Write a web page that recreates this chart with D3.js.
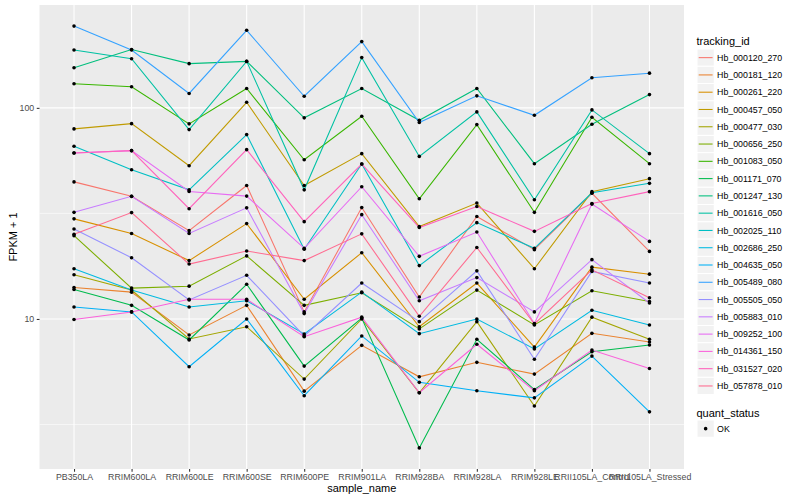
<!DOCTYPE html>
<html>
<head>
<meta charset="utf-8">
<script src="https://cdn.jsdelivr.net/npm/d3@7"></script>
<style>
  body { margin: 0; background: #fff; }
  text { font-family: "Liberation Sans", Arial, sans-serif; }
</style>
</head>
<body>
<div id="chart"></div>
<script>
var svgWidth = 800;
var svgHeight = 500;

// samples on the x axis
var samples = ["PB350LA", "RRIM600LA", "RRIM600LE", "RRIM600SE", "RRIM600PE", "RRIM901LA",
  "RRIM928BA", "RRIM928LA", "RRIM928LE", "RRII105LA_Control", "RRII105LA_Stressed"];

var trackingIds = ["Hb_000120_270", "Hb_000181_120", "Hb_000261_220", "Hb_000457_050",
  "Hb_000477_030", "Hb_000656_250", "Hb_001083_050", "Hb_001171_070", "Hb_001247_130",
  "Hb_001616_050", "Hb_002025_110", "Hb_002686_250", "Hb_004635_050", "Hb_005489_080",
  "Hb_005505_050", "Hb_005883_010", "Hb_009252_100", "Hb_014361_150", "Hb_031527_020",
  "Hb_057878_010"];

// FPKM + 1, one row per tracking id, one column per sample
var fpkm = [
  [44.6, 38.1, 26.2, 42.9, 10.8, 33.7, 12.7, 30.6, 21.3, 39.4, 20.9],
  [14.1, 13.4, 8.40, 11.6, 4.55, 7.50, 5.32, 6.23, 5.48, 8.55, 7.78],
  [29.8, 25.4, 18.9, 28.3, 12.4, 20.6, 9.19, 14.8, 7.36, 17.6, 16.3],
  [79.5, 84.2, 53.2, 106.3, 42.9, 60.7, 27.4, 35.4, 17.3, 40.1, 46.2],
  [16.2, 13.7, 8.04, 9.19, 5.19, 10.0, 4.47, 9.71, 3.87, 10.2, 8.01],
  [24.8, 14.0, 14.3, 19.9, 11.6, 13.3, 8.97, 13.7, 9.37, 13.6, 12.1],
  [130, 126, 84.0, 123.5, 56.8, 91.2, 37.1, 83.3, 32.0, 90.2, 54.4],
  [13.8, 11.6, 7.95, 14.6, 5.98, 10.1, 2.45, 8.01, 4.63, 6.99, 7.53],
  [155, 189, 162, 166, 89.7, 123.5, 87.3, 123.5, 54.4, 83.6, 115.6],
  [188, 171, 78.9, 166, 40.9, 173, 58.9, 95.7, 36.7, 97.8, 60.7],
  [65.8, 50.9, 40.9, 74.7, 21.4, 54.2, 17.9, 28.6, 21.6, 39.6, 43.9],
  [17.3, 13.7, 11.4, 12.2, 8.49, 13.4, 8.52, 10.0, 7.21, 11.0, 9.37],
  [11.4, 10.8, 5.94, 10.0, 4.33, 8.31, 5.01, 4.57, 4.23, 6.67, 3.63],
  [244, 188, 117, 233, 113.5, 206, 85.2, 114, 92.2, 139, 146],
  [26.7, 19.5, 12.3, 16.1, 8.31, 14.8, 9.71, 16.9, 6.44, 16.8, 14.8],
  [32.0, 38.1, 25.4, 33.6, 10.6, 31.2, 12.2, 15.7, 10.8, 19.1, 11.9],
  [61.1, 62.7, 40.2, 38.2, 21.6, 42.3, 19.8, 25.8, 9.52, 35.0, 23.3],
  [9.94, 10.8, 12.4, 12.4, 8.24, 10.2, 4.47, 7.59, 4.57, 7.13, 5.83],
  [61.1, 62.7, 33.3, 63.4, 28.9, 54.2, 27.1, 34.1, 26.0, 35.2, 40.1],
  [25.2, 31.9, 18.2, 21.0, 18.9, 25.3, 10.3, 21.8, 9.47, 17.1, 12.6]
];

var yTicks = [10, 100];
var yMinor = [Math.sqrt(10), Math.sqrt(1000)];

// ggplot2 default hue palette for 20 levels
var colors = ["#F8766D", "#EA8331", "#D89000", "#C09B00", "#A3A500", "#7CAE00", "#39B600",
  "#00BB4E", "#00BF7D", "#00C1A3", "#00BFC4", "#00BAE0", "#00B0F6", "#35A2FF", "#9590FF",
  "#C77CFF", "#E76BF3", "#FA62DB", "#FF62BC", "#FF6C91"];

var panel = { left: 39.5, right: 684, top: 5, bottom: 469 };

var svg = d3.select("#chart")
  .append("svg")
  .attr("width", svgWidth)
  .attr("height", svgHeight);

// long format rows
var series = trackingIds.map(function(id, i) {
  return {
    id: id,
    color: colors[i],
    values: samples.map(function(s, j) { return { sample: s, value: fpkm[i][j] }; })
  };
});
var allValues = d3.merge(fpkm);

// scales (log y, expanded by 5% like ggplot)
var xScale = d3.scalePoint()
  .domain(samples)
  .range([panel.left, panel.right])
  .padding(0.6);

var logExt = d3.extent(allValues, d => Math.log10(d));
var pad = (logExt[1] - logExt[0]) * 0.05;
var yScale = d3.scaleLog()
  .domain([Math.pow(10, logExt[0] - pad), Math.pow(10, logExt[1] + pad)])
  .range([panel.bottom, panel.top]);

// panel background + grid
svg.append("rect")
  .attr("x", panel.left)
  .attr("y", panel.top)
  .attr("width", panel.right - panel.left)
  .attr("height", panel.bottom - panel.top)
  .attr("fill", "#EBEBEB");

svg.append("g").selectAll("line").data(yMinor).enter()
  .append("line")
  .attr("x1", panel.left).attr("x2", panel.right)
  .attr("y1", d => yScale(d)).attr("y2", d => yScale(d))
  .attr("stroke", "#fff").attr("stroke-width", 0.55);

svg.append("g").selectAll("line").data(yTicks).enter()
  .append("line")
  .attr("x1", panel.left).attr("x2", panel.right)
  .attr("y1", d => yScale(d)).attr("y2", d => yScale(d))
  .attr("stroke", "#fff").attr("stroke-width", 1.1);

svg.append("g").selectAll("line").data(samples).enter()
  .append("line")
  .attr("x1", d => xScale(d)).attr("x2", d => xScale(d))
  .attr("y1", panel.top).attr("y2", panel.bottom)
  .attr("stroke", "#fff").attr("stroke-width", 1.1);

// lines
var line = d3.line()
  .x(d => xScale(d.sample))
  .y(d => yScale(d.value));

svg.append("g").selectAll("path").data(series).enter()
  .append("path")
  .attr("d", d => line(d.values))
  .attr("fill", "none")
  .attr("stroke", d => d.color)
  .attr("stroke-width", 1.07);

// points
svg.append("g").selectAll("circle")
  .data(d3.merge(series.map(d => d.values)))
  .enter()
  .append("circle")
  .attr("cx", d => xScale(d.sample))
  .attr("cy", d => yScale(d.value))
  .attr("r", 1.8)
  .attr("fill", "#000");

// axes
var bottomAxis = d3.axisBottom(xScale).tickSize(2.75).tickPadding(2.5);
var leftAxis = d3.axisLeft(yScale).tickValues(yTicks).tickFormat(d3.format("d"))
  .tickSize(2.75).tickPadding(2.5);

var gx = svg.append("g")
  .attr("transform", `translate(0, ${panel.bottom})`)
  .call(bottomAxis);
var gy = svg.append("g")
  .attr("transform", `translate(${panel.left}, 0)`)
  .call(leftAxis);

[gx, gy].forEach(function(g) {
  g.select(".domain").remove();
  g.selectAll(".tick line").attr("stroke", "#333333").attr("stroke-width", 1.07);
  g.selectAll(".tick text")
    .attr("fill", "#4D4D4D")
    .attr("font-size", "8.8px")
    .attr("font-family", "Liberation Sans, Arial, sans-serif");
});

// axis titles
svg.append("text")
  .attr("x", (panel.left + panel.right) / 2)
  .attr("y", 492)
  .attr("text-anchor", "middle")
  .attr("font-size", "11px")
  .text("sample_name");

svg.append("text")
  .attr("transform", `translate(16.5, ${(panel.top + panel.bottom) / 2}) rotate(-90)`)
  .attr("text-anchor", "middle")
  .attr("font-size", "11px")
  .text("FPKM + 1");

// legend: tracking_id
var keySize = 17.28;
var legend = svg.append("g").attr("transform", "translate(697, 0)");

legend.append("text")
  .attr("x", -0.5)
  .attr("y", 44.5)
  .attr("font-size", "11px")
  .text("tracking_id");

var keys = legend.selectAll("g.key").data(series).enter()
  .append("g")
  .attr("class", "key")
  .attr("transform", (d, i) => `translate(0, ${49 + i * keySize})`);

keys.append("rect")
  .attr("width", keySize).attr("height", keySize)
  .attr("fill", "#F2F2F2").attr("stroke", "#fff");

keys.append("line")
  .attr("x1", 1.7).attr("x2", keySize - 1.7)
  .attr("y1", keySize / 2).attr("y2", keySize / 2)
  .attr("stroke", d => d.color)
  .attr("stroke-width", 1.07);

keys.append("text")
  .attr("x", keySize + 2.8)
  .attr("y", keySize / 2 + 3.1)
  .attr("font-size", "8.8px")
  .text(d => d.id);

// legend: quant_status
legend.append("text")
  .attr("x", -0.5)
  .attr("y", 416.5)
  .attr("font-size", "11px")
  .text("quant_status");

var ok = legend.append("g").attr("transform", "translate(0, 420)");
ok.append("rect")
  .attr("width", keySize).attr("height", keySize)
  .attr("fill", "#F2F2F2").attr("stroke", "#fff");
ok.append("circle")
  .attr("cx", keySize / 2).attr("cy", keySize / 2)
  .attr("r", 1.8).attr("fill", "#000");
ok.append("text")
  .attr("x", keySize + 2.8)
  .attr("y", keySize / 2 + 3.1)
  .attr("font-size", "8.8px")
  .text("OK");
</script>
</body>
</html>
